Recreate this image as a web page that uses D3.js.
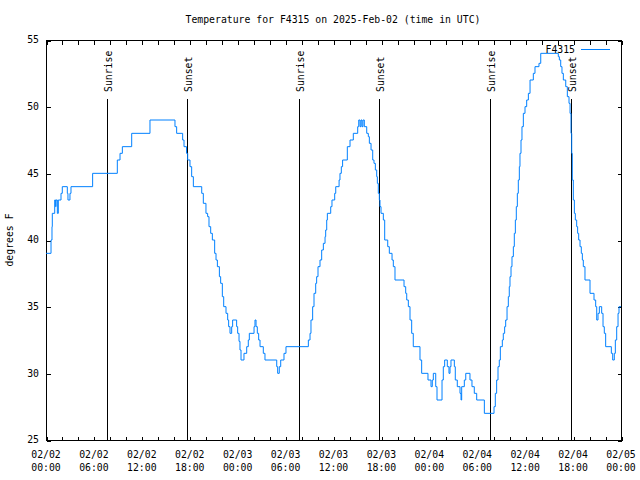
<!DOCTYPE html>
<html><head><meta charset="utf-8">
<script src="https://cdn.jsdelivr.net/npm/d3@7"></script>
<style>
body{margin:0;background:#fff}
svg{display:block}
text{font-family:"DejaVu Sans Mono",monospace;font-size:9.8px;fill:#000}
</style>
</head><body>
<svg id="c" width="640" height="480"></svg>
<script>
// hours since 2025-02-02 00:00 UTC and temperature (F) from that reading onwards
const hours = [0,0.63,0.75,0.79,1.09,1.21,1.25,1.42,1.54,1.88,2.04,2.67,2.75,3.0,3.13,5.84,8.93,9.27,9.56,10.73,13.02,16.15,16.36,17.11,17.28,17.6,17.74,18.03,18.24,18.45,19.5,19.7,20.03,20.24,20.41,20.62,20.83,21.12,21.29,21.46,21.71,21.87,22.08,22.25,22.54,22.75,22.87,23.04,23.25,23.37,23.87,24.0,24.17,24.29,24.42,24.79,25.13,25.33,25.46,26.05,26.17,26.3,26.46,26.63,26.8,27.21,27.42,28.89,29.01,29.21,29.39,29.8,30.05,32.85,33.06,33.18,33.39,33.56,33.77,33.89,34.06,34.31,34.52,34.73,34.94,35.02,35.15,35.23,35.65,35.81,36.15,36.28,36.7,36.81,36.98,37.14,37.73,38.07,38.48,39.03,39.16,39.32,39.44,39.57,39.69,39.86,40.16,40.36,40.49,40.7,40.91,41.07,41.24,41.41,41.49,41.61,41.74,41.82,41.95,42.24,42.41,42.79,42.99,43.33,43.49,43.7,44.83,45.04,45.17,45.37,45.58,45.79,45.99,46.83,47.04,47.83,48.21,48.37,48.5,48.8,48.96,49.59,49.75,49.92,50.25,50.46,50.59,50.71,51.13,51.25,51.5,51.84,51.97,52.05,52.38,52.56,53.09,53.34,53.63,53.93,54.89,56.1,56.26,56.43,56.6,56.76,56.89,57.14,57.26,57.43,57.56,57.73,57.89,58.01,58.1,58.23,58.35,58.52,58.64,58.77,58.89,59.02,59.14,59.27,59.35,59.48,59.6,59.77,59.98,60.19,60.4,60.61,61.02,61.23,61.73,61.95,64.15,64.28,64.45,64.61,64.78,65.08,65.28,65.49,65.62,65.74,65.83,65.9,66.03,66.16,66.28,66.45,66.57,66.7,66.87,67.03,67.16,67.28,67.49,68.12,68.62,68.83,68.96,69.12,69.29,69.58,69.75,69.91,70.08,70.79,70.96,71.16,71.29,71.46,71.63,71.75,72];
const temps = [39,40,41,42,43,42.5,43,42,43,43.5,44,43.5,43,43.5,44,45,46,46.5,47,48,49,48.5,48,47.5,47,46.5,46,45.5,44.75,44,43.5,42.75,42,41.75,41,40.5,40,39,38.5,38,37.25,36.75,35.75,35,34.5,34,33.5,33,33.5,34,33.5,33,32.4,31.75,31,31.5,32,32.5,33,33.5,34,33.5,33,32.5,32,31.5,31,30.5,30,30.5,31,31.5,32,32.5,33,34,35,36,36.75,37.25,38,38.5,39.25,39.75,40.25,40.75,41.5,42,42.5,43,43.5,44,44.5,45,45.5,46,47,47.5,48,48.5,49,48.5,49,48.5,49,48.5,48,47.75,47.25,46.75,46,45.75,45.25,44.75,44.25,43.5,43,42.5,42,41.5,40,39.5,39,38.5,38,37,36.5,36,35.5,35,34,33,32,31,30,29.5,29,29.5,30,29,28,29.5,30.5,31,30.5,30,30.5,31,30.5,29.5,29,28.5,28,29,29.5,30,29.5,29,28.5,28,27,27.5,28.5,29.5,30.5,31,32,32.5,33,33.5,34,35,35.75,36.5,37.25,38,38.75,39.5,40.5,41.5,42.5,43.5,44.5,45.5,46.5,47.5,48.5,49.5,50,50.5,51,52,52.5,53,53.25,54,53.75,53.5,53,52.5,52,51.5,50.75,50.25,49.5,48,46.5,44.5,43,42,41.5,41,40.5,40,39.5,39,38.5,38,37,36,35.5,35,34,34.5,35,34.5,33.5,33,32,31.5,31,31.5,32.5,33.5,34.5,35,35];
const sunHours = [7.7,17.68,31.7,41.74,55.64,65.8];
const sunLabels = ["Sunrise","Sunset","Sunrise","Sunset","Sunrise","Sunset"];
const yTicks = [25,30,35,40,45,50,55];
const xLabelHours = [0,6,12,18,24,30,36,42,48,54,60,66,72];
const xLabelDates = ["02/02","02/02","02/02","02/02","02/03","02/03","02/03","02/03","02/04","02/04","02/04","02/04","02/05"];
const xLabelTimes = ["00:00","06:00","12:00","18:00","00:00","06:00","12:00","18:00","00:00","06:00","12:00","18:00","00:00"];
const xMinorHours = d3.range(0, 73, 2);
const titleText = "Temperature for F4315 on 2025-Feb-02 (time in UTC)";
const yLabelText = "degrees F";
const seriesName = "F4315";

const L = 46, R = 621, T = 40, B = 440;
const svg = d3.select("#c");
const x = d3.scaleLinear().domain([0, 72]).range([L, R]);
const y = d3.scaleLinear().domain([25, 55]).range([B, T]);

// axes (ticks pointing inward)
const gB = svg.append("g").attr("transform", `translate(0,${B + 0.5})`)
  .call(d3.axisBottom(x).tickValues(xMinorHours).tickSize(-4).tickSizeOuter(0).tickFormat(""));
const gT = svg.append("g").attr("transform", `translate(0,${T + 0.5})`)
  .call(d3.axisTop(x).tickValues(xMinorHours).tickSize(-4).tickSizeOuter(0).tickFormat(""));
const gL = svg.append("g").attr("transform", `translate(${L + 0.5},0)`)
  .call(d3.axisLeft(y).tickValues(yTicks).tickSize(-4).tickSizeOuter(0).tickFormat(""));
const gR = svg.append("g").attr("transform", `translate(${R + 0.5},0)`)
  .call(d3.axisRight(y).tickValues(yTicks).tickSize(-4).tickSizeOuter(0).tickFormat(""));
[gB, gT, gL, gR].forEach(g => {
  g.select(".domain").remove();
  g.selectAll("line").attr("stroke", "#000").attr("shape-rendering", "crispEdges")
    .attr("transform", function(){ return null; });
});
svg.selectAll("g .tick").each(function(){
  const t = d3.select(this).attr("transform");
  const m = /translate\(([-\d.]+),([-\d.]+)\)/.exec(t);
  if (m) d3.select(this).attr("transform", `translate(${Math.round(+m[1]) + 0.5 - (this.parentNode===gL.node()||this.parentNode===gR.node()?0.5:0)},${Math.round(+m[2]) + (this.parentNode===gL.node()||this.parentNode===gR.node()?0.5:0)})`);
});

// frame
svg.append("rect").attr("x", L + 0.5).attr("y", T + 0.5).attr("width", R - L).attr("height", B - T)
  .attr("fill", "none").attr("stroke", "#000").attr("shape-rendering", "crispEdges");

// y tick labels
svg.append("g").selectAll("text").data(yTicks).join("text")
  .attr("x", 39).attr("y", d => y(d)).attr("dy", "0.35em")
  .attr("text-anchor", "end").text(d => d);

// x tick labels (two lines)
const xl = svg.append("g").selectAll("text").data(xLabelHours).join("text")
  .attr("text-anchor", "middle");
xl.append("tspan").attr("x", d => x(d)).attr("y", 457.5).text((d, i) => xLabelDates[i]);
xl.append("tspan").attr("x", d => x(d)).attr("y", 470.5).text((d, i) => xLabelTimes[i]);

// title & y label
svg.append("text").attr("x", 333).attr("y", 23).attr("text-anchor", "middle").text(titleText);
svg.append("text").attr("transform", "translate(13,240) rotate(-90)").attr("text-anchor", "middle").text(yLabelText);

// sunrise / sunset markers
const sun = svg.append("g");
sun.selectAll("line").data(sunHours).join("line")
  .attr("x1", d => Math.round(x(d)) + 0.5).attr("x2", d => Math.round(x(d)) + 0.5)
  .attr("y1", 99).attr("y2", B)
  .attr("stroke", "#000").attr("stroke-width", 1).attr("shape-rendering", "crispEdges");
sun.selectAll("text").data(sunHours).join("text")
  .attr("transform", d => `translate(${Math.round(x(d)) + 4.5},92) rotate(-90)`)
  .attr("text-anchor", "start")
  .text((d, i) => sunLabels[i]);

// temperature line
const pts = hours.map((h, i) => [h, temps[i]]);
svg.append("path").datum(pts)
  .attr("fill", "none").attr("stroke", "#0080ff").attr("stroke-width", 1)
  .attr("d", d3.line().x(d => x(d[0])).y(d => y(d[1])).curve(d3.curveStepAfter));

// legend
svg.append("text").attr("x", 575).attr("y", 52.5).attr("text-anchor", "end").text(seriesName);
svg.append("line").attr("x1", 581).attr("x2", 610).attr("y1", 49.5).attr("y2", 49.5)
  .attr("stroke", "#0080ff").attr("stroke-width", 1);
</script>
</body></html>
